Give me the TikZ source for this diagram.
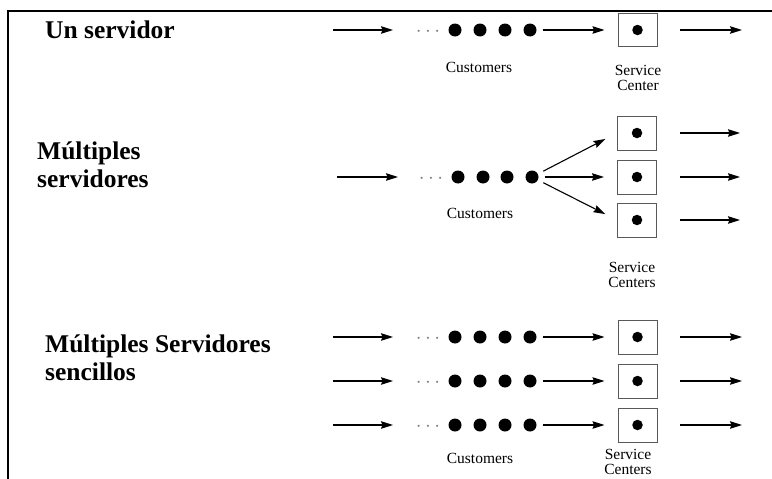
\documentclass[tikz,border=0pt]{standalone}
\usepackage{fontspec}
\setmainfont{Liberation Serif}
\usetikzlibrary{arrows.meta}

\begin{document}
\begin{tikzpicture}[
        x=1pt, y=-1pt,
        cust/.style={circle, fill=black, inner sep=0pt, minimum size=13pt},
        srv/.style={draw=black!65, line width=1pt, minimum width=39pt, minimum height=33pt, inner sep=0pt},
        flow/.style={-{Stealth[length=12pt, width=7.5pt, inset=1.5pt]}, line width=1.1pt},
        ttl/.style={font=\fontsize{25.5}{28}\selectfont\bfseries, align=left, anchor=west, inner sep=0pt},
        lbl/.style={font=\fontsize{15.5}{15}\selectfont, align=center, inner sep=0pt},
        more/.style={text=black!50, inner sep=0pt, yshift=-2pt, font=\fontsize{20}{20}\selectfont},
        ]
    \useasboundingbox (0,0) rectangle (772,479);
    \draw[line width=1.6pt] (8,479) |- (772,11);

    % Un servidor
    \node[ttl] (t1) at (45,30) {Un servidor};
    \coordinate (i1) at (333,30);
    \coordinate (j1) at (393,30);
    \node[more] (m1) at (428,30) {$\cdots$};
    \foreach \i/\x in {1/455, 2/480, 3/505, 4/530}
    {
        \node[cust] (p\i) at (\x,30) {};
    }
    \node[srv] (s1) at (637.5,30) {};
    \node[cust, minimum size=10.5pt] (d1) at (s1) {};
    \coordinate (o1) at (680,30);
    \coordinate (e1) at (742,30);
    \draw[flow] (i1) -- (j1);
    \draw[flow, shorten <=6pt, shorten >=13pt] (p4) -- (s1.west);
    \draw[flow] (o1) -- (e1);
    \node[lbl] (c1) at (479,67) {Customers};
    \node[lbl] (l1) at (638,78) {Service\\Center};

    % Multiples servidores
    \node[ttl] (t2) at (37,165) {Múltiples\\servidores};
    \coordinate (i2) at (337,177);
    \coordinate (j2) at (398,177);
    \node[more] (m2) at (431,177) {$\cdots$};
    \foreach \i/\x in {1/458, 2/483, 3/507, 4/532}
    {
        \node[cust] (q\i) at (\x,177) {};
    }
    \foreach \k/\y in {1/133, 2/177, 3/220}
    {
        \node[srv, minimum height=34pt] (u\k) at (637,\y) {};
        \node[cust, minimum size=10.5pt] (v\k) at (u\k) {};
        \coordinate (o2\k) at (680,\y);
        \coordinate (e2\k) at (740,\y);
        \draw[flow, shorten <=6pt, shorten >=13pt] (q4) -- (u\k.west);
        \draw[flow] (o2\k) -- (e2\k);
    }
    \draw[flow] (i2) -- (j2);
    \node[lbl] (c2) at (480,213) {Customers};
    \node[lbl] (l2) at (632,275) {Service\\Centers};

    % Multiples servidores sencillos
    \node[ttl] (t3) at (45,358) {Múltiples Servidores\\sencillos};
    \foreach \r/\y in {1/337, 2/381, 3/425}
    {
        \coordinate (i3\r) at (333,\y);
        \coordinate (j3\r) at (393,\y);
        \node[more] (m3\r) at (428,\y) {$\cdots$};
        \foreach \i/\x in {1/455, 2/480, 3/505, 4/530}
        {
            \node[cust] (w\r-\i) at (\x,\y) {};
        }
        \node[srv, minimum height=34pt] (r\r) at (637.5,\y) {};
        \node[cust, minimum size=10.5pt] (z\r) at (r\r) {};
        \coordinate (o3\r) at (680,\y);
        \coordinate (e3\r) at (742,\y);
        \draw[flow] (i3\r) -- (j3\r);
        \draw[flow, shorten <=6pt, shorten >=13pt] (w\r-4) -- (r\r.west);
        \draw[flow] (o3\r) -- (e3\r);
    }
    \node[lbl] (c3) at (480,458) {Customers};
    \node[lbl] (l3) at (628,462) {Service\\Centers};

\end{tikzpicture}
\end{document}
